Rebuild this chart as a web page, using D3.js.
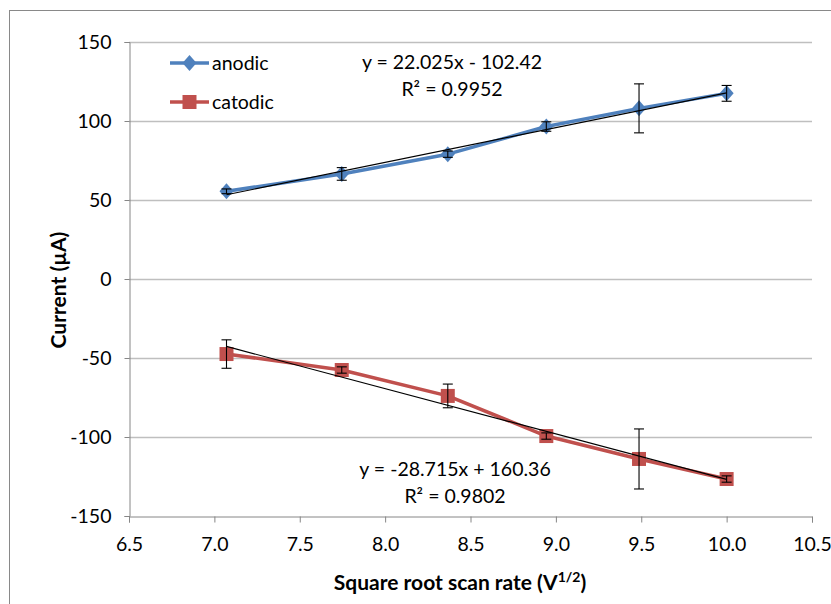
<!DOCTYPE html>
<html>
<head>
<meta charset="utf-8">
<script src="https://d3js.org/d3.v7.min.js"></script>
<style>
  body { margin: 0; background: #fff; }
  svg text { font-family: Lato, "Open Sans", sans-serif; fill: #000; }
</style>
</head>
<body>
<svg id="chart" width="831" height="604"></svg>
<script>
// ── 数据 ────────────────────────────────────────
const scanRoot = [7.071, 7.746, 8.367, 8.944, 9.487, 10.0];
const anodic = [55.5, 66.5, 79, 96.5, 108, 117.5];
const anodicErr = [1.5, 4, 2, 3, 15.5, 5];
const catodic = [-47.5, -57.6, -74, -99.4, -113.9, -126.6];
const catodicErr = [9, 2, 7.5, 2, 19, 2];
const xTicks = [6.5, 7.0, 7.5, 8.0, 8.5, 9.0, 9.5, 10.0, 10.5];
const yTicks = [-150, -100, -50, 0, 50, 100, 150];
const fitAnodic = { slope: 22.025, intercept: -102.42, label: "y = 22.025x - 102.42", r2: "0.9952" };
const fitCatodic = { slope: -28.715, intercept: 160.36, label: "y = -28.715x + 160.36", r2: "0.9802" };

const svg = d3.select("#chart");
const plotL = 129, plotR = 812, plotT = 42, plotB = 516;
const FS = 19.5;

const x = d3.scaleLinear().domain([6.5, 10.5]).range([plotL, plotR]);
const y = d3.scaleLinear().domain([-150, 150]).range([plotB, plotT]);

// 外框
svg.append("rect")
    .attr("x", 9.5).attr("y", 10.5)
    .attr("width", 840).attr("height", 620)
    .attr("fill", "none").attr("stroke", "#898989").attr("stroke-width", 1);

// 网格线
svg.append("g").selectAll("line")
    .data(yTicks.filter(v => v !== -150))
    .join("line")
    .attr("x1", plotL).attr("x2", plotR)
    .attr("y1", d => Math.round(y(d)) + 0.5).attr("y2", d => Math.round(y(d)) + 0.5)
    .attr("stroke", "#bfbfbf").attr("stroke-width", 1.3);

// 坐标轴 (Excel 风格: 普通连字符负号)
const yAxis = svg.append("g")
    .attr("transform", `translate(${plotL + 0.5},0)`)
    .call(d3.axisLeft(y).tickValues(yTicks).tickSize(5).tickPadding(13).tickFormat(d => String(d)));
const xAxis = svg.append("g")
    .attr("transform", `translate(0,${plotB + 0.5})`)
    .call(d3.axisBottom(x).tickValues(xTicks).tickSize(6).tickPadding(15).tickFormat(d => d.toFixed(1)));
[xAxis, yAxis].forEach(a => {
    a.select(".domain").attr("stroke", "#868686");
    a.selectAll(".tick line").attr("stroke", "#868686");
    a.selectAll(".tick text").attr("font-size", FS).attr("font-family", "Lato, sans-serif");
});

// 轴标题
svg.append("text")
    .attr("transform", "translate(66,290) rotate(-90)")
    .attr("text-anchor", "middle")
    .attr("font-size", 21).attr("font-weight", "bold")
    .text("Current (µA)");
const xt = svg.append("text")
    .attr("x", 460).attr("y", 590)
    .attr("text-anchor", "middle")
    .attr("font-size", 21).attr("font-weight", "bold");
xt.append("tspan").text("Square root scan rate (V");
xt.append("tspan").attr("font-size", 14).attr("dy", -8).text("1/2");
xt.append("tspan").attr("dy", 8).text(")");

// 趋势线
function trend(fit) {
    const x0 = scanRoot[0], x1 = scanRoot[scanRoot.length - 1];
    svg.append("line")
        .attr("x1", x(x0)).attr("y1", y(fit.slope * x0 + fit.intercept))
        .attr("x2", x(x1)).attr("y2", y(fit.slope * x1 + fit.intercept))
        .attr("stroke", "#000").attr("stroke-width", 1.2);
}

// 系列
function series(vals, errs, color, marker) {
    const pts = scanRoot.map((s, i) => ({ x: s, y: vals[i], e: errs[i] }));
    svg.append("path")
        .datum(pts)
        .attr("fill", "none").attr("stroke", color).attr("stroke-width", 3.5)
        .attr("stroke-linejoin", "round")
        .attr("d", d3.line().x(d => x(d.x)).y(d => y(d.y)));
    svg.append("g").selectAll("path")
        .data(pts).join("path")
        .attr("transform", d => `translate(${x(d.x)},${y(d.y)})`)
        .attr("d", marker)
        .attr("fill", color);
    const eb = svg.append("g").attr("stroke", "#000").attr("stroke-width", 1.1);
    pts.forEach(d => {
        const cx = x(d.x), y1 = y(d.y + d.e), y2 = y(d.y - d.e);
        eb.append("line").attr("x1", cx).attr("x2", cx).attr("y1", y1).attr("y2", y2);
        eb.append("line").attr("x1", cx - 5).attr("x2", cx + 5).attr("y1", y1).attr("y2", y1);
        eb.append("line").attr("x1", cx - 5).attr("x2", cx + 5).attr("y1", y2).attr("y2", y2);
    });
}

const diamond = "M0,-8L7,0L0,8L-7,0Z";
const square = "M-7,-7H7V7H-7Z";

series(anodic, anodicErr, "#4f81bd", diamond);
series(catodic, catodicErr, "#c0504d", square);
trend(fitAnodic);
trend(fitCatodic);

// 方程标注
function eqLabel(fit, cx, cy) {
    svg.append("text").attr("x", cx).attr("y", cy)
        .attr("text-anchor", "middle").attr("font-size", FS).text(fit.label);
    svg.append("text").attr("x", cx).attr("y", cy + 27)
        .attr("text-anchor", "middle").attr("font-size", FS).text(`R² = ${fit.r2}`);
}
eqLabel(fitAnodic, 452, 69);
eqLabel(fitCatodic, 455, 476);

// 图例
const legend = [
    { name: "anodic", color: "#4f81bd", marker: diamond, y: 63 },
    { name: "catodic", color: "#c0504d", marker: square, y: 102 }
];
legend.forEach(l => {
    svg.append("line").attr("x1", 170).attr("x2", 209).attr("y1", l.y).attr("y2", l.y)
        .attr("stroke", l.color).attr("stroke-width", 3.5);
    svg.append("path").attr("transform", `translate(189.5,${l.y})`).attr("d", l.marker).attr("fill", l.color);
    svg.append("text").attr("x", 212).attr("y", l.y + 7).attr("font-size", FS).text(l.name);
});
</script>
</body>
</html>
